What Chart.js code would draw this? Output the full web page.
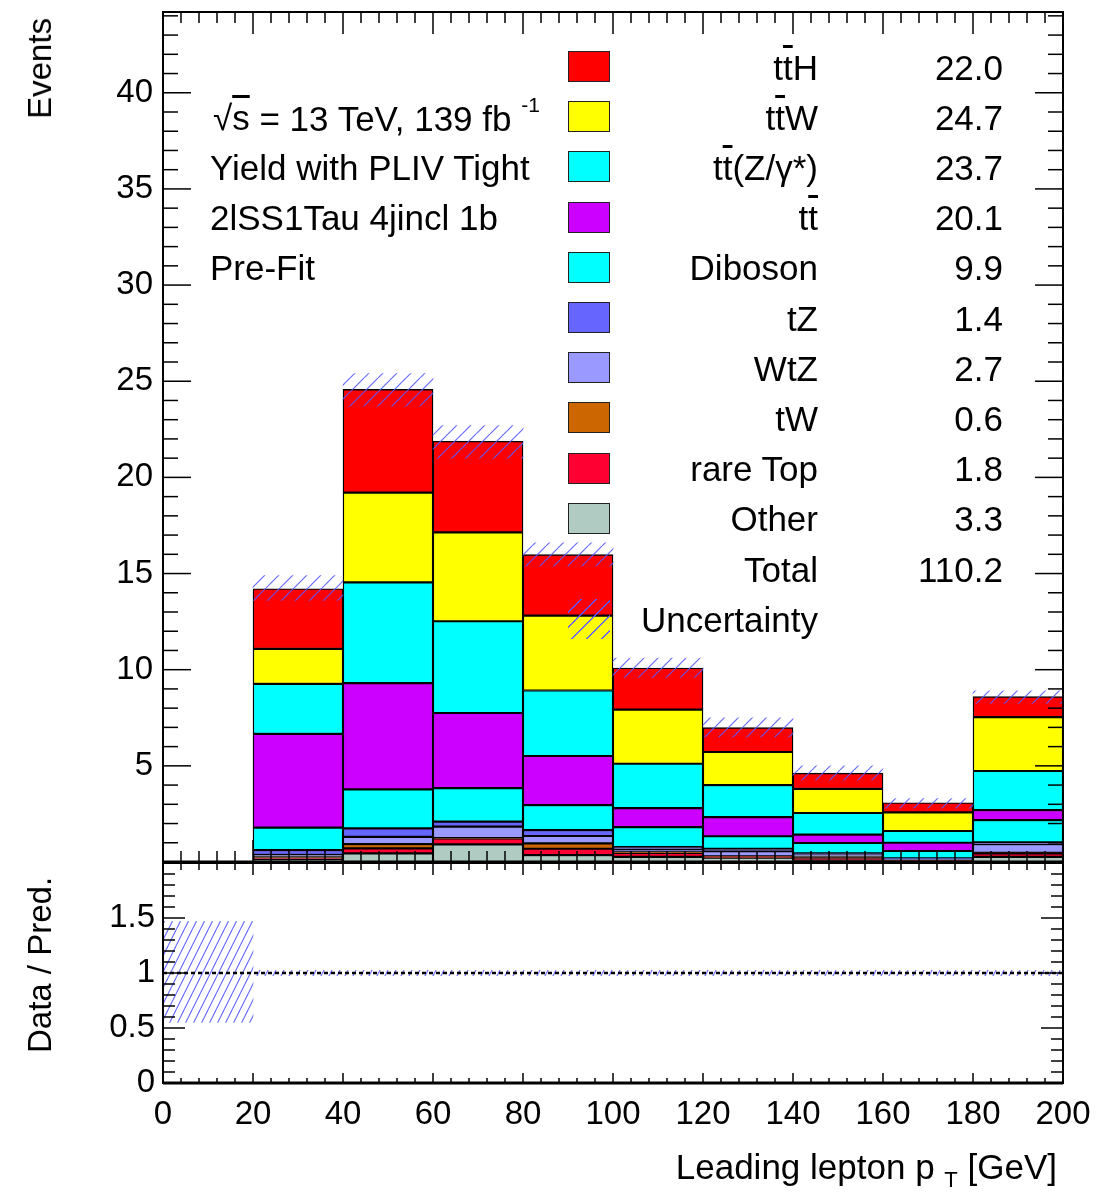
<!DOCTYPE html>
<html>
<head>
<meta charset="utf-8">
<script src="https://cdn.jsdelivr.net/npm/chart.js@4.4.1/dist/chart.umd.min.js"></script>
<style>
  body { margin: 0; background: #fff; }
  #wrap { position: relative; width: 1111px; height: 1194px; overflow: hidden; font-family: "Liberation Sans", Arial, sans-serif; }
  canvas { position: absolute; left: 0; }
  #main { top: 0; }
  #ratio { top: 850px; }
  .txt { position: absolute; white-space: nowrap; line-height: 1; color: #000; font-size: 35px; }
  .ov { text-decoration: overline; text-decoration-thickness: 2.5px; }
  .box { position: absolute; width: 40px; height: 29px; border: 1.5px solid #222; }
  .vt { position: absolute; writing-mode: vertical-rl; transform: rotate(180deg); white-space: nowrap; line-height: 1; font-size: 33px; }
</style>
</head>
<body>
<div id="wrap">
  <canvas id="main" width="1111" height="872"></canvas>
  <canvas id="ratio" width="1111" height="344"></canvas>
  <div id="overlay"></div>
</div>
<script>
// bins of 20 GeV, centres
const binCenters = [30, 50, 70, 90, 110, 130, 150, 170, 190];

// stacked samples, bottom to top
const other   = [0.12, 0.45, 0.92, 0.36, 0.27, 0.22, 0.08, 0.03, 0.27];
const rareTop = [0.10, 0.26, 0.30, 0.33, 0.20, 0.06, 0.15, 0.04, 0.18];
const tW      = [0.05, 0.22, 0.02, 0.28, 0.03, 0.02, 0.04, 0.02, 0.03];
const wtZ     = [0.10, 0.38, 0.60, 0.38, 0.17, 0.26, 0.10, 0.05, 0.45];
const tZ      = [0.25, 0.44, 0.26, 0.31, 0.10, 0.13, 0.08, 0.05, 0.09];
const diboson = [1.17, 2.03, 1.74, 1.30, 1.04, 0.65, 0.54, 0.38, 1.16];
const ttbar   = [4.87, 5.52, 3.91, 2.55, 0.99, 0.99, 0.43, 0.43, 0.52];
const ttZ     = [2.60, 5.24, 4.77, 3.41, 2.31, 1.67, 1.13, 0.61, 2.03];
const ttW     = [1.82, 4.67, 4.62, 3.89, 2.81, 1.72, 1.25, 0.97, 2.80];
const ttH     = [3.13, 5.37, 4.74, 3.17, 2.17, 1.27, 0.82, 0.50, 1.07];

// uncertainty band on the total
const uncLow  = [13.6, 23.7, 21.0, 15.4, 9.6, 6.5, 4.25, 2.8, 8.25];
const uncHigh = [14.9, 25.4, 22.7, 16.6, 10.6, 7.5, 5.0, 3.3, 8.9];

// ratio panel
const ratioCenters = [10, 30, 50, 70, 90, 110, 130, 150, 170, 190];
const ratioLow  = [0.55, 0.975, 0.975, 0.975, 0.975, 0.975, 0.975, 0.975, 0.975, 0.975];
const ratioHigh = [1.47, 1.025, 1.025, 1.025, 1.025, 1.025, 1.025, 1.025, 1.025, 1.025];
const refLineX = [0, 200];
const refLineY = [1, 1];

// legend
const legendLabels = ['t<span class="ov">t</span>H', 't<span class="ov">t</span>W', 't<span class="ov">t</span>(Z/γ*)',
  't<span class="ov">t</span>', 'Diboson', 'tZ', 'WtZ', 'tW', 'rare Top', 'Other', 'Total', 'Uncertainty'];
const legendYields = ['22.0', '24.7', '23.7', '20.1', '9.9', '1.4', '2.7', '0.6', '1.8', '3.3', '110.2', ''];
const legendColors = ['#ff0000', '#ffff00', '#00ffff', '#cc00ff', '#00ffff', '#6666ff', '#9999ff', '#cc6600', '#ff0033', '#afcbc2', null, 'hatch'];

const infoLines = ['<span style="margin-left:3px">√<span class="ov">s</span></span> = 13 TeV, 139 fb <sup style="font-size:21px;position:relative;top:-6px">-1</sup>',
  'Yield with PLIV Tight', '2lSS1Tau 4jincl 1b', 'Pre-Fit'];

const FONT = '"Liberation Sans", Arial, sans-serif';
const HATCH = 'rgba(90, 90, 255, 0.9)';

function hatch(canvas, w, h) {
  const c = document.createElement('canvas');
  c.width = w; c.height = h;
  const g = c.getContext('2d');
  g.strokeStyle = HATCH;
  g.lineWidth = 1.2;
  for (const k of [-1, 0, 1]) {
    g.beginPath();
    g.moveTo(k * w, h);
    g.lineTo(k * w + w, 0);
    g.stroke();
  }
  return canvas.getContext('2d').createPattern(c, 'repeat');
}

// frame with ROOT style inward ticks
const rootFrame = {
  id: 'rootFrame',
  afterDatasetsDraw(chart, args, o) {
    const { ctx, chartArea: a } = chart;
    const xs = chart.scales.x, ys = chart.scales.y;
    ctx.save();
    ctx.strokeStyle = '#000';
    ctx.lineWidth = 1.5;
    const seg = (x1, y1, x2, y2) => { ctx.beginPath(); ctx.moveTo(x1, y1); ctx.lineTo(x2, y2); ctx.stroke(); };
    let n = Math.round((xs.max - xs.min) / o.xMinor);
    for (let i = 0; i <= n; i++) {
      const v = xs.min + i * o.xMinor;
      const major = Math.abs(v / o.xMajor - Math.round(v / o.xMajor)) < 1e-6;
      const px = xs.getPixelForValue(v);
      seg(px, a.bottom, px, a.bottom - (major ? o.xLen[0] : o.xLen[1]));
      seg(px, a.top, px, a.top + (major ? o.xLen[2] : o.xLen[3]));
    }
    n = Math.round((ys.max - ys.min) / o.yMinor);
    for (let i = 0; i <= n; i++) {
      const v = ys.min + i * o.yMinor;
      const major = Math.abs(v / o.yMajor - Math.round(v / o.yMajor)) < 1e-6;
      const py = ys.getPixelForValue(v);
      const len = major ? o.yLen[0] : o.yLen[1];
      seg(a.left, py, a.left + len, py);
      seg(a.right, py, a.right - len, py);
    }
    ctx.lineWidth = 2;
    ctx.strokeRect(a.left, a.top, a.width, a.height);
    ctx.lineWidth = 3;
    seg(a.left, a.bottom, a.right, a.bottom);
    ctx.restore();
  }
};

// keep the plot frame where the layout padding puts it
function fixY(s) { s.width = 163; s.paddingTop = 0; s.paddingBottom = 0; }

const mainCanvas = document.getElementById('main');
const ratioCanvas = document.getElementById('ratio');

const samples = [
  { data: other, color: '#afcbc2' },
  { data: rareTop, color: '#ff0033' },
  { data: tW, color: '#cc6600' },
  { data: wtZ, color: '#9999ff' },
  { data: tZ, color: '#6666ff' },
  { data: diboson, color: '#00ffff' },
  { data: ttbar, color: '#cc00ff' },
  { data: ttZ, color: '#00ffff' },
  { data: ttW, color: '#ffff00' },
  { data: ttH, color: '#ff0000' }
];

const stackSets = samples.map(s => ({
  data: binCenters.map((x, i) => ({ x: x, y: s.data[i] })),
  backgroundColor: s.color,
  borderColor: '#000',
  borderWidth: 1.4,
  yAxisID: 'y'
}));

const uncSet = {
  data: binCenters.map((x, i) => ({ x: x, y: [uncLow[i], uncHigh[i]] })),
  backgroundColor: hatch(mainCanvas, 14, 14),
  borderWidth: 0,
  yAxisID: 'yu'
};

const tickFont = { family: FONT, size: 33 };

new Chart(mainCanvas, {
  type: 'bar',
  data: { datasets: [uncSet, ...stackSets] },
  options: {
    responsive: false,
    animation: false,
    layout: { padding: { left: 0, right: 48, top: 12, bottom: 10 } },
    datasets: { bar: { barPercentage: 1, categoryPercentage: 1, grouped: false, borderSkipped: false } },
    plugins: {
      legend: { display: false },
      tooltip: { enabled: false },
      rootFrame: { xMinor: 4, xMajor: 20, xLen: [22, 11, 22, 11], yMinor: 1, yMajor: 5, yLen: [28, 15] }
    },
    scales: {
      x: { type: 'linear', min: 0, max: 200, offset: false, display: false, ticks: { stepSize: 20 } },
      y: {
        min: 0, max: 44.2, stacked: true,
        afterFit: fixY,
        grid: { display: false, drawTicks: false }, border: { display: false },
        ticks: { stepSize: 5, includeBounds: false, padding: 10, font: tickFont, color: '#000',
          callback: v => v === 0 ? '' : v }
      },
      yu: { min: 0, max: 44.2, display: false, stacked: false }
    }
  },
  plugins: [rootFrame]
});

new Chart(ratioCanvas, {
  type: 'bar',
  data: {
    datasets: [
      {
        type: 'line',
        data: refLineX.map((x, i) => ({ x: x, y: refLineY[i] })),
        borderColor: '#000', borderWidth: 2.5, borderDash: [4, 3],
        pointRadius: 0, fill: false
      },
      {
        data: ratioCenters.map((x, i) => ({ x: x, y: [ratioLow[i], ratioHigh[i]] })),
        backgroundColor: hatch(ratioCanvas, 8, 16),
        borderWidth: 0
      }
    ]
  },
  options: {
    responsive: false,
    animation: false,
    layout: { padding: { left: 0, right: 48, top: 13, bottom: 0 } },
    datasets: { bar: { barPercentage: 1, categoryPercentage: 1, grouped: false } },
    plugins: {
      legend: { display: false },
      tooltip: { enabled: false },
      rootFrame: { xMinor: 4, xMajor: 20, xLen: [10, 5, 12, 7], yMinor: 0.1, yMajor: 0.5, yLen: [22, 12] }
    },
    scales: {
      x: {
        type: 'linear', min: 0, max: 200, offset: false,
        afterFit(s) { s.height = 111; s.paddingLeft = 0; s.paddingRight = 0; },
        grid: { display: false, drawTicks: false, offset: false }, border: { display: false },
        ticks: { stepSize: 20, autoSkip: false, maxRotation: 0, padding: 12, font: tickFont, color: '#000' }
      },
      y: {
        min: 0, max: 2,
        afterFit: fixY,
        grid: { display: false, drawTicks: false }, border: { display: false },
        ticks: { stepSize: 0.5, includeBounds: false, padding: 8, font: tickFont, color: '#000',
          callback: v => v === 2 ? '' : v }
      }
    }
  },
  plugins: [rootFrame]
});

// text layer
const ov = document.getElementById('overlay');
function put(html, style, cls) {
  const d = document.createElement('div');
  d.className = cls || 'txt';
  d.innerHTML = html;
  Object.assign(d.style, style);
  ov.appendChild(d);
  return d;
}

legendLabels.forEach((lab, i) => {
  const cy = 67 + i * 50.2;
  const col = legendColors[i];
  if (col === 'hatch') {
    const b = put('', { left: '568px', top: (cy - 20) + 'px', width: '42px', height: '40px',
      background: 'repeating-linear-gradient(135deg, transparent 0 9px, ' + HATCH + ' 9px 10.5px)' }, 'box');
    b.style.border = 'none';
  } else if (col) {
    put('', { left: '568px', top: (cy - 16) + 'px', background: col }, 'box');
  }
  put(lab, { right: (1111 - 818) + 'px', top: (cy - 17.5) + 'px', textAlign: 'right' });
  if (legendYields[i]) put(legendYields[i], { right: (1111 - 1003) + 'px', top: (cy - 17.5) + 'px', textAlign: 'right' });
});

infoLines.forEach((t, i) => {
  put(t, { left: '210px', top: (117 + i * 50 - 17.5) + 'px' });
});

put('Events', { left: '23px', top: '18px' }, 'vt');
put('Data / Pred.', { left: '23px', top: '815px', height: '300px', textAlign: 'center' }, 'vt');
put('Leading lepton p <sub style="font-size:22px;position:relative;top:8px;vertical-align:baseline">T</sub> [GeV]',
  { right: (1111 - 1057) + 'px', top: '1149px', textAlign: 'right' });
</script>
</body>
</html>
